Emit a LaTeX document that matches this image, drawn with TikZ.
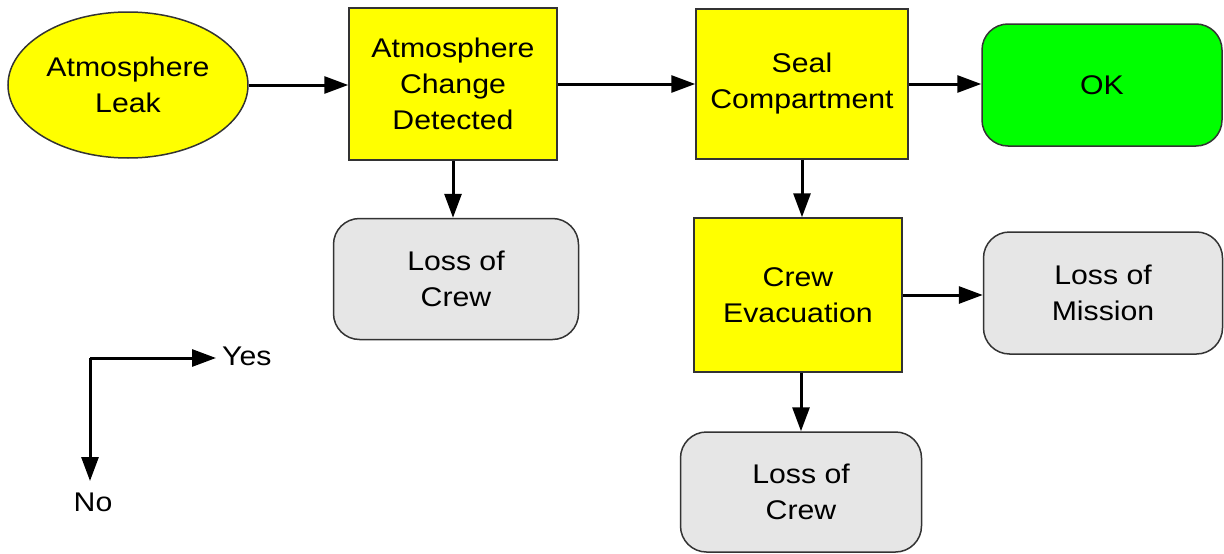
\documentclass[tikz,border=0pt]{standalone}
\usepackage{fontspec}
\setmainfont{Liberation Sans}[FakeStretch=1.12]
\usetikzlibrary{shapes.geometric,arrows.meta}
\definecolor{evyellow}{HTML}{FFFF00}
\definecolor{okgreen}{HTML}{00FF00}
\definecolor{lossgray}{HTML}{E6E6E6}
\definecolor{edgegray}{HTML}{333333}
\begin{document}
\begin{tikzpicture}[x=1pt,y=-1pt,
  base/.style={draw=edgegray, line width=1.5pt, align=center,
    font=\fontsize{27}{36}\selectfont, inner sep=0pt},
  eventbox/.style={base, rectangle, fill=evyellow},
  startnode/.style={base, ellipse, fill=evyellow},
  endok/.style={base, rectangle, rounded corners=26pt, fill=okgreen},
  endloss/.style={base, rectangle, rounded corners=26pt, fill=lossgray},
  lbl/.style={font=\fontsize{27}{36}\selectfont, inner sep=0pt},
  arr/.style={line width=3pt, -{Triangle[length=24pt,width=17pt]}}]
\useasboundingbox (0,0) rectangle (1224,554);

\node[startnode, minimum width=240pt, minimum height=146pt] (leak) at (128,85) {Atmosphere\\Leak};
\node[eventbox, minimum width=208pt, minimum height=152pt] (acd) at (453,84) {Atmosphere\\Change\\Detected};
\node[eventbox, minimum width=212pt, minimum height=150pt] (seal) at (802,84) {Seal\\Compartment};
\node[endok, minimum width=240pt, minimum height=122pt] (ok) at (1102,85) {OK};
\node[endloss, minimum width=245pt, minimum height=121pt] (loc1) at (456,279) {Loss of\\Crew};
\node[eventbox, minimum width=208pt, minimum height=154pt] (evac) at (798,295) {Crew\\Evacuation};
\node[endloss, minimum width=239pt, minimum height=122pt] (lom) at (1103,293) {Loss of\\Mission};
\node[endloss, minimum width=241pt, minimum height=120pt] (loc2) at (801,492) {Loss of\\Crew};

\draw[arr] (leak.east) -- (leak.east -| acd.west);
\draw[arr] (acd.east) -- (acd.east -| seal.west);
\draw[arr] (seal.east) -- (seal.east -| ok.west);
\draw[arr] (acd.south) -- (acd.south |- loc1.north);
\draw[arr] (seal.south) -- (seal.south |- evac.north);
\draw[arr] (evac.east) -- (evac.east -| lom.west);
\draw[arr] (loc2.north |- evac.south) -- (loc2.north);

% legend
\coordinate (corner) at (90,358);
\coordinate (yestip) at (216,358);
\coordinate (notip) at (90,481);
\node[lbl, anchor=west] (yes) at (222,356) {Yes};
\node[lbl] (no) at (93,502) {No};
\draw[arr] (corner) -- (yestip);
\draw[arr] (corner) -- (notip);
\end{tikzpicture}
\end{document}
